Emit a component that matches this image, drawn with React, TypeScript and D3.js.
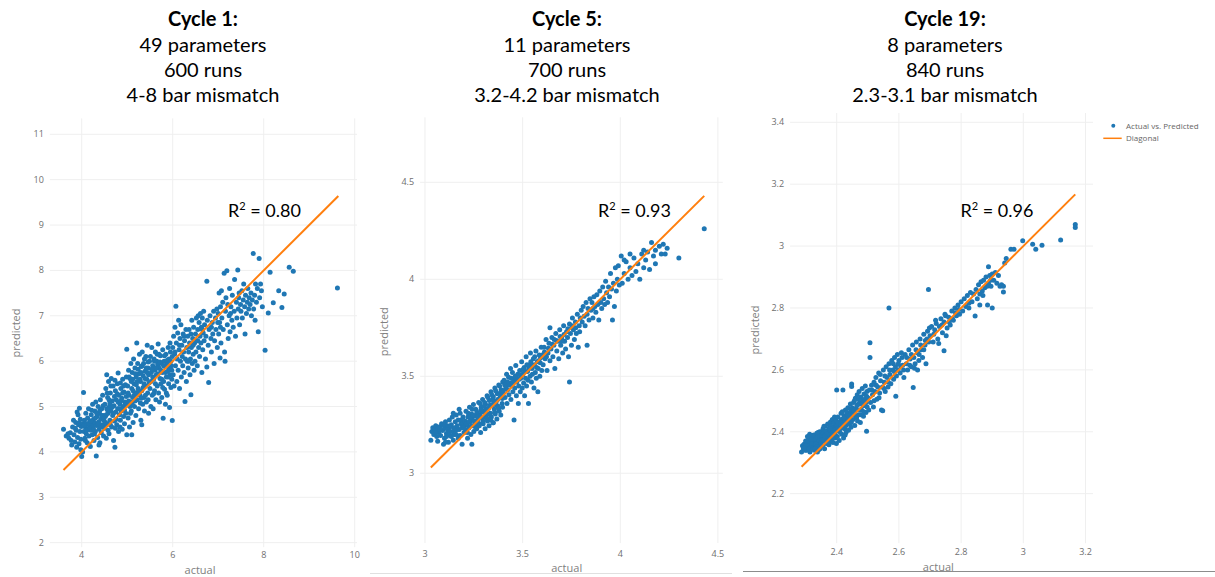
import React from "react";
import * as d3 from "d3";

// ---------- DATA ----------
const titles = [
  ["Cycle 1:", "49 parameters", "600 runs", "4-8 bar mismatch"],
  ["Cycle 5:", "11 parameters", "700 runs", "3.2-4.2 bar mismatch"],
  ["Cycle 19:", "8 parameters", "840 runs", "2.3-3.1 bar mismatch"],
];
const rSquared = ["0.80", "0.93", "0.96"];

const panel1XTicks = [4, 6, 8, 10];
const panel1YTicks = [2, 3, 4, 5, 6, 7, 8, 9, 10, 11];
const panel2XTicks = [3, 3.5, 4, 4.5];
const panel2YTicks = [3, 3.5, 4, 4.5];
const panel3XTicks = [2.4, 2.6, 2.8, 3, 3.2];
const panel3YTicks = [2.2, 2.4, 2.6, 2.8, 3, 3.2, 3.4];

const panel1Diagonal = [3.6, 9.64];
const panel2Diagonal = [3.03, 4.43];
const panel3Diagonal = [2.287, 3.167];

const legendLabels = ["Actual vs. Predicted", "Diagonal"];

// actual, predicted
const cycle1Points: number[][] = [
[3.60,4.50],[3.66,4.35],[3.72,4.30],[3.75,4.42],[3.78,4.15],[3.80,4.55],[3.83,4.38],[3.85,4.22],[3.87,4.65],[3.88,4.48],[3.90,4.88],[3.91,4.32],[3.93,4.60],[3.94,4.18],[3.95,4.96],[3.96,4.45],[3.97,4.72],[3.98,4.28],[3.99,4.56],[3.70,4.40],[3.82,4.70],[3.89,4.10],[3.92,4.82],[3.77,4.25],[3.86,4.52],[3.98,4.05],[3.95,4.64],
[4.00,3.90],[4.02,4.00],[4.04,5.31],[4.03,4.62],[4.05,4.45],[4.06,4.70],[4.07,4.30],[4.08,4.55],[4.09,4.85],[4.10,4.40],[4.11,4.62],[4.12,4.20],[4.13,4.75],[4.14,4.50],[4.15,4.95],[4.16,4.35],[4.17,4.58],[4.18,4.68],[4.19,4.12],[4.20,4.48],[4.21,4.82],[4.22,4.60],[4.23,4.38],[4.24,5.05],[4.25,4.55],[4.26,4.72],[4.27,4.25],[4.28,4.64],[4.29,4.90],[4.30,4.45],[4.31,5.10],[4.32,3.91],[4.33,4.58],[4.34,4.78],[4.35,4.32],[4.36,5.00],[4.37,4.66],[4.38,4.50],[4.39,4.85],[4.40,4.20],[4.41,5.15],[4.42,4.72],[4.43,4.42],[4.44,4.95],[4.45,4.60],[4.46,5.25],[4.47,4.80],[4.48,4.35],[4.49,4.70],[4.05,4.58],[4.11,4.48],[4.18,4.52],[4.22,4.92],[4.28,4.40],[4.33,4.85],[4.38,4.15],[4.42,4.55],[4.47,5.02],[4.15,4.62],[4.26,4.50],[4.36,4.62],[4.44,4.80],[4.08,4.25],[4.20,4.68],[4.30,4.75],[4.40,4.92],[4.48,4.58],
[4.50,4.52],[4.51,5.05],[4.52,4.78],[4.53,5.40],[4.54,4.30],[4.55,5.70],[4.55,4.95],[4.56,4.62],[4.57,5.20],[4.58,4.85],[4.59,5.55],[4.60,4.40],[4.61,5.00],[4.62,4.70],[4.63,5.30],[4.64,4.90],[4.65,5.62],[4.66,4.55],[4.67,5.12],[4.68,4.80],[4.69,5.45],[4.70,4.25],[4.71,5.02],[4.72,4.68],[4.73,4.10],[4.74,5.35],[4.75,4.88],[4.76,5.15],[4.77,4.60],[4.78,5.50],[4.79,4.95],[4.80,5.74],[4.81,4.45],[4.82,5.25],[4.83,4.82],[4.84,5.05],[4.85,4.70],[4.86,5.40],[4.87,4.90],[4.88,5.18],[4.89,4.50],[4.90,5.60],[4.91,5.00],[4.92,4.78],[4.93,5.32],[4.94,4.62],[4.95,5.10],[4.96,5.48],[4.97,4.85],[4.98,5.22],[4.99,6.26],[4.99,4.38],[4.52,4.65],[4.57,4.92],[4.60,5.15],[4.63,4.60],[4.68,5.00],[4.72,5.22],[4.76,4.72],[4.80,5.10],[4.84,4.55],[4.88,4.95],[4.92,5.45],[4.96,5.02],[4.54,4.82],[4.62,5.08],[4.70,4.85],[4.78,5.28],[4.86,5.12],[4.94,4.92],[4.58,4.48],[4.66,4.98],[4.74,4.52],[4.82,4.95],[4.90,5.30],[4.98,5.65],[4.56,5.30],[4.64,5.45],[4.73,5.58],[4.85,5.52],
[5.00,5.05],[5.01,5.45],[5.02,4.75],[5.03,5.80],[5.04,5.25],[5.05,4.55],[5.06,5.62],[5.07,5.10],[5.08,5.95],[5.09,4.90],[5.10,4.38],[5.10,5.40],[5.11,5.75],[5.12,5.20],[5.13,4.65],[5.14,6.05],[5.15,5.50],[5.16,5.00],[5.17,5.85],[5.18,5.30],[5.19,4.80],[5.20,5.65],[5.21,6.40],[5.22,5.15],[5.23,5.95],[5.24,5.40],[5.25,4.95],[5.26,5.72],[5.27,6.15],[5.28,5.25],[5.29,5.55],[5.30,4.70],[5.31,5.88],[5.32,4.60],[5.32,5.35],[5.33,6.20],[5.34,5.05],[5.35,5.68],[5.36,5.95],[5.37,5.20],[5.38,4.90],[5.39,5.78],[5.40,5.45],[5.41,6.10],[5.42,5.10],[5.43,5.60],[5.44,6.35],[5.45,5.30],[5.46,5.85],[5.47,4.85],[5.48,5.52],[5.49,6.00],[5.02,5.30],[5.06,5.00],[5.09,5.55],[5.13,5.35],[5.17,5.12],[5.20,5.48],[5.24,5.82],[5.28,5.60],[5.31,5.18],[5.35,5.42],[5.39,5.62],[5.42,5.85],[5.46,5.15],[5.04,5.65],[5.11,5.05],[5.18,5.72],[5.25,5.35],[5.33,5.90],[5.40,5.25],[5.47,5.70],[5.07,4.85],[5.15,5.25],[5.22,5.55],[5.29,5.08],[5.37,5.50],[5.44,5.75],[5.03,5.12],[5.12,5.60],[5.21,5.28],[5.30,5.75],[5.38,6.05],[5.46,5.98],
[5.50,5.40],[5.51,6.10],[5.52,5.00],[5.53,5.75],[5.54,6.30],[5.55,5.25],[5.56,5.90],[5.57,4.95],[5.58,5.60],[5.59,6.05],[5.60,5.35],[5.61,5.80],[5.62,6.20],[5.63,5.15],[5.64,5.70],[5.65,6.00],[5.66,5.45],[5.67,5.92],[5.68,6.38],[5.69,5.30],[5.70,5.85],[5.71,5.10],[5.72,5.62],[5.73,6.12],[5.74,5.50],[5.75,5.95],[5.76,5.20],[5.77,5.75],[5.78,6.25],[5.79,4.74],[5.80,5.55],[5.81,6.00],[5.82,5.38],[5.83,5.88],[5.84,5.05],[5.85,6.15],[5.86,5.65],[5.87,5.95],[5.88,5.25],[5.89,5.78],[5.90,6.30],[5.91,5.50],[5.92,6.05],[5.93,4.98],[5.94,5.70],[5.95,6.20],[5.96,5.42],[5.97,5.90],[5.98,5.60],[5.99,4.69],[5.99,6.10],[5.52,5.55],[5.56,5.65],[5.60,6.00],[5.64,5.85],[5.68,5.72],[5.72,5.98],[5.76,5.60],[5.80,5.90],[5.84,5.75],[5.88,6.02],[5.92,5.85],[5.96,6.00],[5.54,5.82],[5.62,5.50],[5.70,6.15],[5.78,5.42],[5.86,5.30],[5.94,6.40],[5.58,5.28],[5.66,6.15],[5.74,5.80],[5.82,6.12],[5.90,5.65],[5.98,5.80],
[6.00,6.30],[6.01,5.70],[6.02,6.55],[6.03,5.45],[6.04,6.15],[6.05,6.75],[6.06,5.90],[6.07,7.21],[6.08,6.40],[6.09,5.55],[6.10,6.05],[6.11,6.62],[6.12,5.80],[6.13,6.90],[6.14,6.25],[6.15,5.40],[6.16,6.50],[6.17,6.00],[6.18,6.80],[6.19,5.65],[6.20,6.35],[6.21,6.10],[6.22,5.90],[6.23,6.60],[6.24,6.20],[6.25,5.75],[6.26,6.45],[6.27,5.11],[6.28,6.05],[6.29,6.70],[6.30,5.55],[6.31,6.30],[6.32,6.00],[6.33,6.55],[6.34,5.85],[6.35,6.20],[6.36,6.70],[6.37,6.40],[6.38,5.70],[6.39,6.05],[6.40,5.26],[6.40,6.60],[6.41,6.30],[6.42,6.90],[6.43,5.95],[6.44,6.50],[6.45,6.15],[6.46,6.75],[6.47,5.80],[6.48,6.40],[6.49,6.00],[6.05,6.20],[6.15,6.35],[6.25,6.55],[6.35,6.00],[6.45,6.35],
[6.50,6.60],[6.51,6.20],[6.52,6.95],[6.53,6.45],[6.54,5.90],[6.55,6.70],[6.56,7.00],[6.57,6.30],[6.58,6.85],[6.59,6.10],[6.60,6.55],[6.61,7.05],[6.62,6.40],[6.63,6.75],[6.64,5.75],[6.65,6.95],[6.66,6.25],[6.67,6.62],[6.68,7.10],[6.69,6.45],[6.70,6.80],[6.72,6.05],[6.73,6.55],[6.75,7.76],[6.75,5.87],[6.76,6.90],[6.78,6.35],[6.79,5.53],[6.80,6.70],[6.82,7.00],[6.84,6.50],[6.85,6.20],[6.87,6.85],[6.88,6.60],[6.90,7.10],[6.91,5.95],[6.92,6.45],[6.94,6.95],[6.95,6.70],[6.97,7.15],[6.98,6.30],[6.99,6.85],[6.55,6.45],[6.65,6.70],[6.85,6.75],
[7.00,7.05],[7.01,6.60],[7.02,7.50],[7.03,6.85],[7.04,6.07],[7.05,7.20],[7.06,6.40],[7.07,7.55],[7.08,6.95],[7.10,7.30],[7.11,6.70],[7.13,7.94],[7.14,6.20],[7.15,6.00],[7.16,7.10],[7.17,7.40],[7.19,7.99],[7.20,6.80],[7.21,7.25],[7.22,6.50],[7.24,7.00],[7.25,7.60],[7.26,6.65],[7.28,7.20],[7.30,6.90],[7.31,7.45],[7.33,6.75],[7.35,7.10],[7.36,7.80],[7.38,6.55],[7.40,7.30],[7.41,6.95],[7.43,8.01],[7.44,7.15],[7.46,7.50],[7.47,6.80],[7.49,7.25],[7.05,6.75],[7.27,7.05],[7.45,7.40],
[7.50,7.10],[7.52,7.55],[7.53,6.95],[7.55,7.35],[7.56,7.70],[7.58,7.20],[7.59,6.60],[7.60,7.45],[7.62,7.05],[7.64,7.30],[7.65,7.60],[7.67,7.15],[7.68,7.40],[7.70,7.25],[7.72,7.50],[7.73,7.00],[7.75,7.35],[7.77,8.37],[7.78,7.15],[7.80,7.45],[7.81,6.90],[7.82,7.70],[7.84,7.30],[7.86,7.60],[7.88,6.65],[7.90,8.26],[7.91,7.40],[7.93,7.70],[7.95,7.55],[7.97,7.20],
[8.03,6.24],[8.10,7.06],[8.14,7.96],[8.21,7.29],[8.33,7.55],[8.40,7.18],[8.45,7.48],[8.56,8.07],[8.65,7.98],[9.62,7.61],
];

const cycle5Points: number[][] = [
[3.030,3.170],[3.035,3.215],[3.040,3.235],[3.045,3.200],[3.050,3.225],[3.055,3.245],[3.060,3.190],[3.065,3.230],[3.070,3.210],[3.075,3.240],[3.080,3.195],[3.085,3.255],[3.090,3.220],[3.095,3.150],[3.100,3.235],[3.100,3.180],[3.105,3.265],[3.110,3.205],[3.115,3.245],[3.120,3.160],[3.120,3.225],[3.125,3.275],[3.130,3.195],[3.135,3.250],[3.140,3.215],[3.140,3.290],[3.145,3.170],[3.150,3.235],[3.155,3.265],[3.160,3.200],[3.160,3.300],[3.165,3.245],[3.170,3.180],[3.170,3.275],[3.175,3.225],[3.180,3.310],[3.180,3.195],[3.185,3.255],[3.190,3.235],[3.190,3.150],[3.195,3.290],[3.200,3.210],[3.055,3.210],[3.075,3.225],[3.095,3.250],[3.110,3.190],[3.130,3.240],[3.150,3.200],[3.165,3.225],[3.185,3.275],[3.200,3.245],[3.145,3.310],[3.115,3.225],[3.175,3.330],[3.125,3.215],[3.065,3.165],[3.105,3.160],[3.135,3.190],[3.155,3.220],[3.195,3.260],
[3.205,3.270],[3.208,3.225],[3.210,3.320],[3.215,3.250],[3.218,3.180],[3.220,3.290],[3.225,3.235],[3.228,3.340],[3.230,3.265],[3.235,3.200],[3.238,3.305],[3.240,3.150],[3.240,3.280],[3.245,3.245],[3.248,3.355],[3.250,3.215],[3.255,3.295],[3.258,3.260],[3.260,3.330],[3.265,3.230],[3.268,3.310],[3.270,3.275],[3.275,3.365],[3.278,3.245],[3.280,3.300],[3.285,3.210],[3.288,3.340],[3.290,3.285],[3.295,3.380],[3.298,3.255],[3.300,3.320],[3.305,3.290],[3.308,3.230],[3.310,3.355],[3.315,3.305],[3.318,3.400],[3.320,3.270],[3.325,3.335],[3.328,3.245],[3.330,3.375],[3.335,3.310],[3.338,3.420],[3.340,3.290],[3.345,3.350],[3.348,3.260],[3.350,3.395],[3.355,3.330],[3.358,3.440],[3.360,3.305],[3.365,3.370],[3.368,3.280],[3.370,3.410],[3.375,3.345],[3.378,3.455],[3.380,3.320],[3.385,3.390],[3.388,3.300],[3.390,3.430],[3.395,3.360],[3.398,3.470],[3.212,3.255],[3.232,3.285],[3.252,3.270],[3.272,3.295],[3.292,3.315],[3.312,3.330],[3.332,3.350],[3.352,3.365],[3.372,3.380],[3.392,3.400],[3.222,3.310],[3.242,3.330],[3.262,3.295],[3.282,3.360],[3.302,3.345],[3.322,3.390],[3.342,3.405],[3.362,3.425],[3.382,3.450],[3.217,3.210],[3.237,3.245],[3.257,3.240],[3.277,3.255],[3.297,3.270],[3.317,3.285],[3.337,3.275],[3.357,3.315],[3.377,3.335],[3.397,3.340],[3.226,3.265],[3.266,3.315],[3.306,3.365],[3.346,3.380],[3.386,3.415],[3.246,3.300],[3.286,3.325],[3.326,3.305],[3.366,3.350],[3.396,3.385],[3.350,3.260],
[3.400,3.420],[3.405,3.480],[3.410,3.390],[3.415,3.450],[3.418,3.510],[3.420,3.360],[3.425,3.430],[3.428,3.495],[3.430,3.405],[3.435,3.465],[3.438,3.540],[3.440,3.380],[3.445,3.450],[3.448,3.520],[3.450,3.420],[3.455,3.485],[3.456,3.275],[3.460,3.440],[3.465,3.555],[3.468,3.400],[3.470,3.470],[3.475,3.510],[3.478,3.360],[3.480,3.450],[3.485,3.530],[3.488,3.420],[3.490,3.490],[3.495,3.575],[3.498,3.440],[3.500,3.510],[3.505,3.465],[3.508,3.545],[3.510,3.400],[3.515,3.490],[3.518,3.600],[3.520,3.450],[3.525,3.525],[3.528,3.480],[3.530,3.360],[3.535,3.560],[3.538,3.500],[3.540,3.620],[3.545,3.470],[3.548,3.540],[3.550,3.510],[3.555,3.590],[3.558,3.440],[3.560,3.560],[3.565,3.520],[3.568,3.630],[3.570,3.490],[3.575,3.575],[3.578,3.420],[3.580,3.540],[3.585,3.610],[3.588,3.500],[3.590,3.570],[3.595,3.650],[3.598,3.530],[3.412,3.435],[3.432,3.455],[3.452,3.470],[3.472,3.490],[3.492,3.505],[3.512,3.525],[3.532,3.540],[3.552,3.555],[3.572,3.545],[3.592,3.595],[3.422,3.470],[3.442,3.490],[3.462,3.500],[3.482,3.485],[3.502,3.535],[3.522,3.560],[3.542,3.575],[3.562,3.600],[3.582,3.580],[3.408,3.455],
[3.600,3.610],[3.605,3.560],[3.610,3.650],[3.615,3.590],[3.620,3.690],[3.625,3.530],[3.630,3.620],[3.635,3.670],[3.640,3.750],[3.640,3.580],[3.645,3.640],[3.650,3.700],[3.655,3.600],[3.660,3.660],[3.665,3.540],[3.670,3.720],[3.675,3.630],[3.680,3.680],[3.685,3.590],[3.690,3.740],[3.695,3.660],[3.700,3.700],[3.705,3.620],[3.710,3.760],[3.715,3.680],[3.720,3.640],[3.725,3.730],[3.730,3.700],[3.735,3.600],[3.740,3.470],[3.740,3.770],[3.745,3.720],[3.750,3.660],[3.755,3.800],[3.760,3.740],[3.765,3.690],[3.770,3.780],[3.775,3.720],[3.780,3.820],[3.785,3.650],[3.790,3.760],[3.795,3.800],[3.612,3.625],[3.632,3.645],[3.652,3.665],[3.672,3.685],[3.692,3.705],[3.712,3.715],[3.732,3.745],[3.752,3.760],[3.772,3.750],[3.792,3.730],[3.622,3.600],[3.662,3.690],[3.702,3.680],
[3.800,3.840],[3.805,3.780],[3.810,3.860],[3.815,3.810],[3.820,3.760],[3.825,3.880],[3.830,3.660],[3.830,3.820],[3.835,3.850],[3.840,3.790],[3.845,3.900],[3.850,3.840],[3.855,3.880],[3.860,3.800],[3.865,3.910],[3.870,3.860],[3.875,3.830],[3.880,3.920],[3.885,3.870],[3.890,3.790],[3.895,3.940],[3.900,3.880],[3.905,3.850],[3.910,3.960],[3.915,3.900],[3.920,3.870],[3.925,3.990],[3.930,3.930],[3.935,3.880],[3.940,3.960],[3.945,3.910],[3.950,4.030],[3.955,3.950],[3.960,3.790],[3.965,3.980],[3.970,3.860],[3.975,4.060],[3.980,3.940],[3.985,4.000],[3.990,4.070],[3.995,3.970],[3.860,3.850],
[4.005,4.120],[4.010,3.980],[4.020,4.030],[4.030,4.090],[4.040,4.000],[4.050,4.060],[4.060,4.020],[4.070,4.110],[4.080,4.040],[4.090,4.080],[4.100,4.000],[4.110,4.130],[4.120,4.060],[4.130,4.100],[4.140,4.140],[4.150,4.050],[4.160,4.190],[4.170,4.120],[4.180,4.080],[4.200,4.170],[4.210,4.130],[4.220,4.180],[4.240,4.160],[4.300,4.110],[4.430,4.260],[4.050,4.130],[4.120,4.150],[4.020,4.100],[4.180,4.150],[4.230,4.130],
];

const cycle19Points: number[][] = [
[2.287,2.335],[2.290,2.355],[2.293,2.345],[2.295,2.360],[2.298,2.340],[2.300,2.370],[2.302,2.350],[2.305,2.362],[2.307,2.342],[2.310,2.378],[2.312,2.355],[2.314,2.335],[2.316,2.368],[2.318,2.385],[2.320,2.348],[2.322,2.372],[2.324,2.358],[2.326,2.390],[2.328,2.340],[2.330,2.365],[2.332,2.380],[2.334,2.352],[2.336,2.395],[2.338,2.335],[2.340,2.370],[2.341,2.385],[2.343,2.358],[2.345,2.400],[2.346,2.345],[2.348,2.375],[2.349,2.390],[2.300,2.355],[2.308,2.372],[2.315,2.350],[2.322,2.388],[2.328,2.362],[2.335,2.372],[2.342,2.342],[2.347,2.362],[2.303,2.340],[2.311,2.345],[2.319,2.362],[2.327,2.375],[2.333,2.360],[2.339,2.382],[2.344,2.372],[2.296,2.348],[2.313,2.392],[2.324,2.345],[2.337,2.352],[2.345,2.388],[2.318,2.375],[2.331,2.345],[2.306,2.385],[2.340,2.398],
[2.350,2.365],[2.351,2.400],[2.353,2.380],[2.355,2.355],[2.356,2.410],[2.358,2.372],[2.360,2.392],[2.361,2.345],[2.363,2.418],[2.365,2.385],[2.366,2.362],[2.368,2.402],[2.370,2.378],[2.371,2.425],[2.373,2.395],[2.375,2.358],[2.376,2.412],[2.378,2.385],[2.380,2.432],[2.381,2.370],[2.383,2.405],[2.385,2.390],[2.386,2.440],[2.388,2.365],[2.390,2.415],[2.391,2.398],[2.393,2.448],[2.395,2.380],[2.396,2.425],[2.398,2.402],[2.399,2.362],[2.352,2.388],[2.357,2.395],[2.362,2.372],[2.367,2.388],[2.372,2.405],[2.377,2.398],[2.382,2.418],[2.387,2.408],[2.392,2.428],[2.397,2.412],[2.354,2.375],[2.364,2.400],[2.374,2.372],[2.384,2.375],[2.394,2.392],[2.359,2.418],[2.369,2.392],[2.379,2.410],[2.389,2.380],[2.398,2.438],[2.361,2.385],[2.371,2.365],[2.383,2.395],[2.393,2.405],
[2.400,2.420],[2.402,2.385],[2.404,2.448],[2.406,2.405],[2.408,2.372],[2.410,2.432],[2.412,2.415],[2.414,2.460],[2.416,2.392],[2.418,2.440],[2.420,2.535],[2.420,2.425],[2.422,2.380],[2.424,2.452],[2.426,2.410],[2.428,2.470],[2.430,2.398],[2.432,2.445],[2.434,2.428],[2.436,2.478],[2.438,2.405],[2.440,2.455],[2.442,2.440],[2.444,2.490],[2.446,2.415],[2.448,2.554],[2.448,2.462],[2.405,2.428],[2.415,2.440],[2.425,2.435],[2.435,2.455],[2.445,2.470],[2.410,2.400],[2.420,2.412],[2.430,2.420],[2.440,2.425],[2.403,2.410],[2.413,2.428],[2.423,2.445],[2.433,2.462],[2.443,2.455],[2.418,2.465],[2.437,2.440],[2.427,2.390],[2.447,2.430],[2.400,2.535],[2.448,2.546],
[2.450,2.478],[2.452,2.440],[2.454,2.495],[2.456,2.462],[2.458,2.420],[2.460,2.508],[2.462,2.475],[2.464,2.445],[2.466,2.520],[2.468,2.488],[2.470,2.455],[2.472,2.530],[2.474,2.495],[2.476,2.430],[2.478,2.512],[2.480,2.470],[2.482,2.540],[2.484,2.500],[2.486,2.450],[2.488,2.522],[2.490,2.485],[2.492,2.548],[2.494,2.462],[2.496,2.402],[2.496,2.515],[2.498,2.480],[2.455,2.470],[2.465,2.485],[2.475,2.470],[2.485,2.485],[2.495,2.495],[2.460,2.452],[2.470,2.505],[2.480,2.490],[2.490,2.505],[2.457,2.500],[2.467,2.435],[2.477,2.455],[2.487,2.465],[2.497,2.530],
[2.500,2.510],[2.503,2.470],[2.505,2.535],[2.507,2.688],[2.507,2.640],[2.509,2.495],[2.512,2.550],[2.515,2.520],[2.518,2.480],[2.520,2.560],[2.523,2.530],[2.526,2.575],[2.529,2.505],[2.532,2.545],[2.535,2.590],[2.538,2.525],[2.541,2.565],[2.544,2.470],[2.547,2.545],[2.548,2.468],[2.550,2.600],[2.553,2.560],[2.556,2.530],[2.559,2.610],[2.562,2.575],[2.565,2.545],[2.568,2.800],[2.568,2.620],[2.571,2.585],[2.574,2.555],[2.577,2.630],[2.580,2.600],[2.583,2.570],[2.586,2.640],[2.589,2.610],[2.590,2.515],[2.592,2.580],[2.595,2.650],[2.598,2.620],[2.513,2.535],[2.527,2.550],[2.540,2.585],[2.555,2.580],[2.570,2.600],[2.585,2.595],[2.520,2.500],[2.536,2.510],[2.552,2.540],[2.566,2.560],[2.582,2.620],[2.597,2.600],
[2.600,2.630],[2.604,2.590],[2.608,2.655],[2.612,2.615],[2.616,2.575],[2.620,2.650],[2.624,2.620],[2.628,2.600],[2.632,2.665],[2.636,2.635],[2.640,2.610],[2.644,2.680],[2.646,2.543],[2.648,2.640],[2.652,2.620],[2.656,2.690],[2.660,2.655],[2.664,2.630],[2.668,2.700],[2.672,2.665],[2.676,2.640],[2.680,2.715],[2.684,2.680],[2.687,2.620],[2.690,2.700],[2.692,2.725],[2.695,2.860],[2.696,2.690],[2.698,2.735],[2.610,2.640],[2.625,2.640],[2.640,2.650],[2.655,2.665],[2.670,2.680],[2.685,2.695],[2.615,2.600],[2.635,2.615],[2.650,2.605],[2.665,2.650],[2.680,2.665],[2.660,2.600],[2.606,2.612],
[2.700,2.710],[2.705,2.740],[2.710,2.690],[2.715,2.730],[2.720,2.750],[2.725,2.700],[2.730,2.740],[2.735,2.765],[2.740,2.720],[2.745,2.662],[2.745,2.755],[2.750,2.775],[2.755,2.735],[2.760,2.770],[2.765,2.745],[2.770,2.790],[2.775,2.760],[2.780,2.800],[2.785,2.775],[2.790,2.810],[2.795,2.780],[2.800,2.820],[2.712,2.715],[2.728,2.685],[2.738,2.745],[2.752,2.710],[2.762,2.755],[2.772,2.765],[2.782,2.785],[2.792,2.795],[2.718,2.760],[2.748,2.780],
[2.805,2.790],[2.810,2.830],[2.815,2.805],[2.820,2.840],[2.825,2.815],[2.830,2.850],[2.835,2.820],[2.840,2.845],[2.845,2.774],[2.848,2.860],[2.852,2.830],[2.856,2.875],[2.860,2.845],[2.864,2.885],[2.868,2.855],[2.872,2.890],[2.876,2.865],[2.880,2.900],[2.884,2.870],[2.888,2.933],[2.888,2.880],[2.892,2.905],[2.896,2.870],[2.900,2.800],[2.900,2.910],[2.905,2.890],[2.910,2.915],[2.915,2.880],[2.920,2.905],[2.925,2.870],[2.930,2.875],[2.936,2.852],[2.936,2.870],[2.940,2.945],[2.945,2.960],[2.825,2.800],[2.860,2.810],[2.870,2.840],[2.885,2.810],[2.895,2.890],
[2.960,2.990],[2.970,2.990],[2.998,3.017],[3.030,3.006],[3.040,2.990],[3.060,3.003],[3.120,3.020],[3.167,3.070],[3.167,3.060],
];

// ---------- STYLE / LAYOUT ----------
const DOT = "#1f77b4";
const LINE = "#ff7f0e";
const GRID = "#efefef";
const TICK = "#6f6f6f";
const TITLE_FONT = "Lato, 'Open Sans', sans-serif";
const AXIS_FONT = "'Open Sans', 'Noto Sans', sans-serif";

type PanelCfg = {
  points: number[][];
  xTicks: number[];
  yTicks: number[];
  diag: number[];
  xDomain: [number, number];
  yDomain: [number, number];
  left: number; right: number; top: number; bottom: number;
  tickLabelY: number;
  xTitle: [number, number];
  yTitle: [number, number];
  titleX: number;
  rX: number;
  r2: string;
  title: string[];
};

const panels: PanelCfg[] = [
  {
    points: cycle1Points, xTicks: panel1XTicks, yTicks: panel1YTicks, diag: panel1Diagonal,
    xDomain: [3.3, 10.05], yDomain: [1.9, 11.35],
    left: 49.85, right: 357, top: 118.4, bottom: 547.2,
    tickLabelY: 557.5, xTitle: [200, 573.5], yTitle: [16, 333],
    titleX: 203, rX: 228, r2: rSquared[0], title: titles[0],
  },
  {
    points: cycle5Points, xTicks: panel2XTicks, yTicks: panel2YTicks, diag: panel2Diagonal,
    xDomain: [2.975, 4.525], yDomain: [2.64, 4.835],
    left: 420.1, right: 722.8, top: 117.3, bottom: 543.1,
    tickLabelY: 556.5, xTitle: [566.7, 572], yTitle: [384, 331.7],
    titleX: 567, rX: 598, r2: rSquared[1], title: titles[1],
  },
  {
    points: cycle19Points, xTicks: panel3XTicks, yTicks: panel3YTicks, diag: panel3Diagonal,
    xDomain: [2.25, 3.224], yDomain: [2.04, 3.43],
    left: 790.05, right: 1093, top: 113, bottom: 543.2,
    tickLabelY: 555, xTitle: [938.3, 570.5], yTitle: [755.5, 330],
    titleX: 945, rX: 960.5, r2: rSquared[2], title: titles[2],
  },
];

const titleBaselines = [26, 51.5, 76.5, 101.5];

function Panel({ cfg }: { cfg: PanelCfg }) {
  const x = d3.scaleLinear().domain(cfg.xDomain).range([cfg.left, cfg.right]);
  const y = d3.scaleLinear().domain(cfg.yDomain).range([cfg.bottom, cfg.top]);
  const line = d3.line<number>().x((d) => x(d)).y((d) => y(d));
  const fmt = (v: number) => String(v);
  return (
    <g>
      {cfg.title.map((t, i) => (
        <text key={i} x={cfg.titleX} y={titleBaselines[i]} textAnchor="middle"
          fontFamily={TITLE_FONT} fontSize={20} fontWeight={i === 0 ? 700 : 400} fill="#000">
          {t}
        </text>
      ))}
      {cfg.xTicks.map((t) => (
        <line key={"gx" + t} x1={x(t)} x2={x(t)} y1={cfg.top} y2={cfg.bottom} stroke={GRID} strokeWidth={1} />
      ))}
      {cfg.yTicks.map((t) => (
        <line key={"gy" + t} x1={cfg.left} x2={cfg.right} y1={y(t)} y2={y(t)} stroke={GRID} strokeWidth={1} />
      ))}
      {cfg.xTicks.map((t) => (
        <text key={"tx" + t} x={x(t)} y={cfg.tickLabelY} textAnchor="middle" fontFamily={AXIS_FONT} fontSize={9} fill={TICK}>
          {fmt(t)}
        </text>
      ))}
      {cfg.yTicks.map((t) => (
        <text key={"ty" + t} x={cfg.left - 6} y={y(t) + 3} textAnchor="end" fontFamily={AXIS_FONT} fontSize={9} fill={TICK}>
          {fmt(t)}
        </text>
      ))}
      <text x={cfg.xTitle[0]} y={cfg.xTitle[1]} textAnchor="middle" fontFamily={AXIS_FONT} fontSize={11} fill="#808080">actual</text>
      <text transform={`translate(${cfg.yTitle[0]},${cfg.yTitle[1]}) rotate(-90)`} dy="0.35em" textAnchor="middle"
        fontFamily={AXIS_FONT} fontSize={11} fill="#808080">predicted</text>
      {cfg.points.map((p, i) => (
        <circle key={i} cx={x(p[0])} cy={y(p[1])} r={2.5} fill={DOT} />
      ))}
      <path d={line(cfg.diag) || ""} stroke={LINE} strokeWidth={2} fill="none" />
      <text x={cfg.rX} y={216.5} fontFamily={TITLE_FONT} fontSize={18} fill="#000">
        R<tspan fontSize={11} dy={-7}>2</tspan><tspan dy={7}> = {cfg.r2}</tspan>
      </text>
    </g>
  );
}

export default function App() {
  return (
    <svg width={1215} height={577} viewBox="0 0 1215 577"
      style={{ position: "absolute", left: 0, top: 0, background: "#fff" }}>
      <rect x={0} y={0} width={1215} height={577} fill="#fff" />
      {panels.map((p, i) => <Panel key={i} cfg={p} />)}
      <circle cx={1113.3} cy={125.7} r={2} fill={DOT} />
      <text x={1126} y={128.5} fontFamily={AXIS_FONT} fontSize={8} fill="#666">{legendLabels[0]}</text>
      <line x1={1103.3} x2={1121.7} y1={138.3} y2={138.3} stroke={LINE} strokeWidth={1.5} />
      <text x={1126} y={141.2} fontFamily={AXIS_FONT} fontSize={8} fill="#666">{legendLabels[1]}</text>
      <line x1={370} x2={732} y1={573.5} y2={573.5} stroke="#e0e0e0" strokeWidth={1} />
      <line x1={743} x2={1215} y1={571.5} y2={571.5} stroke="#8c8c8c" strokeWidth={1} />
    </svg>
  );
}
